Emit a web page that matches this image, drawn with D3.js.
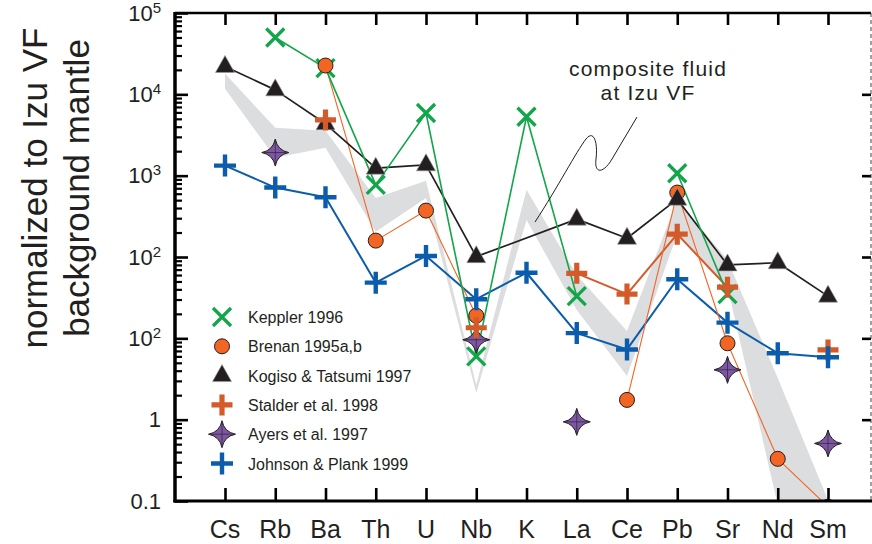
<!DOCTYPE html>
<html><head><meta charset="utf-8">
<script src="https://cdn.jsdelivr.net/npm/d3@7"></script>
<style>
body{margin:0;background:#fff;}
svg{display:block;font-family:"Liberation Sans",Arial,Helvetica,sans-serif;}
</style></head><body>
<svg id="chart" width="872" height="544"></svg>
<script>
// ---------- data ----------
const elements = ["Cs","Rb","Ba","Th","U","Nb","K","La","Ce","Pb","Sr","Nd","Sm"];
const keppler = [null, 50000, 21000, 770, 5900, 6, 5300, 33, null, 1070, 35, null, null];
const brenan  = [null, null, 22600, 159, 372, 19, null, null, 1.75, 620, 8.7, 0.33, 0.085];
const kogiso  = [22000, 11350, 4340, 1236, 1358, 101, null, 292, 170, 514, 80, 85, 33];
const stalder = [null, null, 4850, null, null, 13.5, null, 63, 35, 191, 42.5, null, 7.2];
const ayers   = [null, 1925, null, null, null, 9.6, null, 0.94, null, null, 4.1, null, 0.51];
const johnson = [1330, 714, 543, 48.4, 103, 30.3, 64, 11.6, 7.3, 53.3, 15.6, 6.56, 5.85];
const fluidUpper = [18000, 3870, 3560, 533, 863, 2.67, 669, 60, 12.3, 504, 92, 3.26, 0.103];
const fluidLower = [11700, 1656, 2198, 204, 533, 2.13, 286, 22.3, 3.45, 192, 42.9, 0.089, 0.019];
const yTickValues = [0.1, 1, 10, 100, 1000, 10000, 100000];
const yTickBase   = ["0.1", "1", "10", "10", "10", "10", "10"];
const yTickSup    = ["", "", "2", "2", "3", "4", "5"];
const legendLabels = ["Keppler 1996","Brenan 1995a,b","Kogiso & Tatsumi 1997","Stalder et al. 1998","Ayers et al. 1997","Johnson & Plank 1999"];
const annotationLines = ["composite fluid","at Izu VF"];
const yTitleLines = ["normalized to Izu VF","background mantle"];

// ---------- layout ----------
const svg = d3.select("#chart");
const L = 175, R = 871, T = 13, B = 501;
const x = d3.scalePoint().domain(elements).range([225, 828]);
const y = d3.scaleLog().domain([0.1, 100000]).range([B, T]);

const series = [
  {key:"keppler", vals:keppler, color:"#12a64b", lw:1.6, line:true, connect:false, marker:"x"},
  {key:"brenan", vals:brenan, color:"#f26522", lw:1.1, line:true, connect:false, marker:"circle"},
  {key:"kogiso", vals:kogiso, color:"#231f20", lw:1.7, line:true, connect:true, marker:"tri"},
  {key:"stalder", vals:stalder, color:"#d45a2a", lw:2, line:true, connect:false, marker:"plusS"},
  {key:"ayers", vals:ayers, color:"#7e57a4", lw:0, line:false, connect:false, marker:"star"},
  {key:"johnson", vals:johnson, color:"#0b5cad", lw:2, line:true, connect:false, marker:"plusJ"}
];

svg.append("defs").append("clipPath").attr("id","plotclip")
  .append("rect").attr("x", L).attr("y", T).attr("width", R - L).attr("height", B - T);

const plot = svg.append("g").attr("clip-path","url(#plotclip)");

// band
const bandData = elements.map((e,i)=>({e, hi:fluidUpper[i], lo:fluidLower[i]}));
plot.append("path").datum(bandData)
  .attr("fill","#dcddde")
  .attr("d", d3.area().x(d=>x(d.e)).y0(d=>y(d.lo)).y1(d=>y(d.hi)));

// annotation leader (positioned relative to the text)
const annX = 648, annY = 76;
const leader = d3.path();
leader.moveTo(annX-113, annY+146);
leader.bezierCurveTo(annX-90, annY+111, annX-72, annY+76, annX-62, annY+63);
leader.bezierCurveTo(annX-54, annY+53, annX-50, annY+67, annX-52, annY+83);
leader.bezierCurveTo(annX-54, annY+99, annX-44, annY+97, annX-36, annY+83);
leader.lineTo(annX-11, annY+41);
svg.append("path").attr("d", leader.toString()).attr("fill","none").attr("stroke","#231f20").attr("stroke-width",1);

svg.append("text").attr("x", annX).attr("y", annY).attr("text-anchor","middle")
  .attr("font-size",21).attr("letter-spacing","1.2px").attr("fill","#231f20")
  .selectAll("tspan").data(annotationLines).join("tspan")
  .attr("x", annX).attr("dy",(d,i)=> i===0 ? 0 : 24).text(d=>d);

// lines
const lineOrder = ["johnson","stalder","brenan","kogiso","keppler"];
lineOrder.forEach(k=>{
  const s = series.find(d=>d.key===k);
  let pts = elements.map((e,i)=>({e, v:s.vals[i]}));
  if (s.connect) pts = pts.filter(d=>d.v!=null);
  plot.append("path").datum(pts)
    .attr("fill","none").attr("stroke", s.color).attr("stroke-width", s.lw)
    .attr("stroke-linejoin","round")
    .attr("d", d3.line().defined(d=>d.v!=null).x(d=>x(d.e)).y(d=>y(d.v)));
});

// markers
function drawMarker(g, type, color){
  if (type==="x"){
    g.append("path").attr("d","M-9,-9L9,9M-9,9L9,-9").attr("stroke",color).attr("stroke-width",3.3).attr("fill","none");
  } else if (type==="circle"){
    g.append("circle").attr("r",7.5).attr("fill",color).attr("stroke","#231f20").attr("stroke-width",1);
  } else if (type==="tri"){
    g.append("path").attr("d","M0,-11L9.5,6L-9.5,6Z").attr("fill",color).attr("stroke","#9a9a9a").attr("stroke-width",0.6);
  } else if (type==="plusS"){
    g.append("path").attr("d","M-10.5,0H10.5M0,-10.5V10.5").attr("stroke",color).attr("stroke-width",5.2).attr("fill","none");
  } else if (type==="plusJ"){
    g.append("path").attr("d","M-11,0H11M0,-11V11").attr("stroke",color).attr("stroke-width",4.4).attr("fill","none");
  } else if (type==="star"){
    const Ro = 13.5, c = 2.2;
    const tips = [[0,-Ro],[Ro,0],[0,Ro],[-Ro,0]];
    let d = `M${tips[0][0]},${tips[0][1]}`;
    for (let i=0;i<4;i++){
      const a = tips[i], b = tips[(i+1)%4];
      const cx = (a[0]+b[0])*0.5*c/ (Ro*0.5) , cy = (a[1]+b[1])*0.5*c/(Ro*0.5);
      d += `Q${cx},${cy} ${b[0]},${b[1]}`;
    }
    g.append("path").attr("d", d+"Z")
      .attr("fill",color).attr("stroke","#231f20").attr("stroke-width",1);
    g.append("path").attr("d",`M0,${-Ro+2}V${Ro-2}M${-Ro+2},0H${Ro-2}`)
      .attr("stroke","#2e2236").attr("stroke-width",0.7);
  }
}
const markerOrder = ["ayers","keppler","brenan","kogiso","stalder","johnson"];
markerOrder.forEach(k=>{
  const s = series.find(d=>d.key===k);
  elements.forEach((e,i)=>{
    if (s.vals[i]==null) return;
    const g = plot.append("g").attr("transform",`translate(${x(e)},${y(s.vals[i])})`);
    drawMarker(g, s.marker, s.color);
  });
});

// ---------- axes ----------
const minorTicks = [];
for (let e=-1; e<5; e++) for (let k=2; k<10; k++) minorTicks.push(k*Math.pow(10,e));

function styleAxis(g, w){
  g.select(".domain").remove();
  g.selectAll(".tick line").attr("stroke","#000").attr("stroke-width",w);
}
svg.append("g").attr("transform",`translate(${L},0)`)
  .call(d3.axisRight(y).tickValues(minorTicks).tickSize(7).tickFormat(""))
  .call(g=>styleAxis(g,2.2));
svg.append("g").attr("transform",`translate(${L},0)`)
  .call(d3.axisRight(y).tickValues(yTickValues).tickSize(13).tickFormat(""))
  .call(g=>styleAxis(g,2.6));
svg.append("g").attr("transform",`translate(${R},0)`)
  .call(d3.axisLeft(y).tickValues(yTickValues.slice(1,6)).tickSize(9).tickFormat(""))
  .call(g=>styleAxis(g,2.6));
svg.append("g").attr("transform",`translate(0,${T})`)
  .call(d3.axisBottom(x).tickSize(12).tickFormat(""))
  .call(g=>styleAxis(g,2.6));
svg.append("g").attr("transform",`translate(0,${B})`)
  .call(d3.axisTop(x).tickSize(13).tickFormat(""))
  .call(g=>styleAxis(g,2.6));

// frame
svg.append("line").attr("x1",L).attr("x2",L).attr("y1",T-1).attr("y2",B+1.5).attr("stroke","#000").attr("stroke-width",3.5);
svg.append("line").attr("x1",L-1.5).attr("x2",872).attr("y1",B).attr("y2",B).attr("stroke","#000").attr("stroke-width",3);
svg.append("line").attr("x1",L).attr("x2",R).attr("y1",T).attr("y2",T).attr("stroke","#000").attr("stroke-width",2.5);
svg.append("line").attr("x1",R).attr("x2",R).attr("y1",T).attr("y2",B).attr("stroke","#444").attr("stroke-width",1).attr("stroke-dasharray","4,3");

// y tick labels
const yl = svg.append("g").attr("font-size",22).attr("fill","#231f20");
yTickValues.forEach((v,i)=>{
  const t = yl.append("text").attr("x",161).attr("y",y(v)+7.5).attr("text-anchor","end");
  t.append("tspan").text(yTickBase[i]);
  if (yTickSup[i]) t.append("tspan").attr("font-size",15).attr("dy",-8).text(yTickSup[i]);
});

// x labels
svg.append("g").selectAll("text").data(elements).join("text")
  .attr("x",d=>x(d)).attr("y",538).attr("text-anchor","middle")
  .attr("font-size",25).attr("fill","#231f20").text(d=>d);

// y title
const yt = svg.append("text").attr("transform","translate(0,188) rotate(-90)")
  .attr("text-anchor","middle").attr("font-size",35).attr("fill","#231f20");
yt.selectAll("tspan").data(yTitleLines).join("tspan")
  .attr("x",0).attr("y",(d,i)=> i===0 ? 47 : 89).text(d=>d);

// legend
const lg = svg.append("g");
series.forEach((s,i)=>{
  const ly = 317 + i*29.3;
  const g = lg.append("g").attr("transform",`translate(222,${ly})`);
  drawMarker(g, s.marker, s.color);
  lg.append("text").attr("x",248).attr("y",ly+6).attr("font-size",16).attr("fill","#231f20").text(legendLabels[i]);
});
</script>
</body></html>
